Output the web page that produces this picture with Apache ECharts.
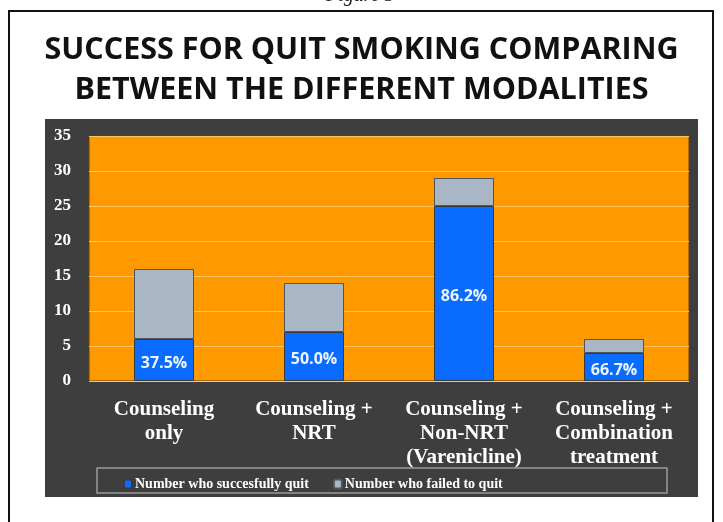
<!DOCTYPE html>
<html>
<head>
<meta charset="utf-8">
<script src="https://cdn.jsdelivr.net/npm/echarts@6/dist/echarts.min.js"></script>
<style>html,body{margin:0;padding:0;background:#fff;}#c{width:723px;height:522px;}</style>
</head>
<body>
<div id="c"></div>
<script>
var categories = ['Counseling\nonly', 'Counseling +\nNRT', 'Counseling +\nNon-NRT\n(Varenicline)', 'Counseling +\nCombination\ntreatment'];
var quitValues = [6, 7, 25, 4];
var failedValues = [10, 7, 4, 2];
var pctLabels = ['37.5%', '50.0%', '86.2%', '66.7%'];
var yTicks = [0, 5, 10, 15, 20, 25, 30, 35];

var chart = echarts.init(document.getElementById('c'));
var serif = '"Liberation Serif", "DejaVu Serif", serif';
chart.setOption({
  backgroundColor: '#ffffff',
  animation: false,
  graphic: [
    { type: 'rect', z: -10, shape: { x: 9, y: 11, width: 704, height: 530 }, style: { fill: '#ffffff', stroke: '#111', lineWidth: 2 } },
    { type: 'text', z: -5, x: 326, y: -14, style: { text: 'Figure 3', fontSize: 20, fontStyle: 'italic', fontFamily: '"Liberation Serif", serif', fill: '#222' } },
    { type: 'rect', z: -9, shape: { x: 45, y: 119, width: 653, height: 378 }, style: { fill: '#3e3e3e' } },
    { type: 'rect', z: -8, shape: { x: 97, y: 468, width: 570, height: 25 }, style: { fill: 'none', stroke: '#9a9a9a', lineWidth: 1.5 } }
  ],
  title: {
    text: 'SUCCESS FOR QUIT SMOKING COMPARING\nBETWEEN THE DIFFERENT MODALITIES',
    left: 'center',
    top: 25,
    textStyle: { fontFamily: '"Open Sans", "Noto Sans", sans-serif', fontWeight: 'bold', fontSize: 30.5, color: '#111', lineHeight: 40 }
  },
  legend: {
    left: 118,
    top: 472,
    itemWidth: 8,
    itemHeight: 9,
    itemGap: 24,
    icon: 'roundRect',
    textStyle: { color: '#ffffff', fontFamily: serif, fontWeight: 'bold', fontSize: 14, padding: [0, 0, 0, -2] },
    data: ['Number who succesfully quit', 'Number who failed to quit']
  },
  grid: {
    left: 89, right: 34, top: 136, bottom: 141,
    show: true, backgroundColor: '#ff9900', borderColor: '#6b4000', borderWidth: 1
  },
  xAxis: {
    type: 'category',
    data: categories,
    axisLine: { show: false },
    axisTick: { show: false },
    axisLabel: { color: '#ffffff', fontFamily: serif, fontWeight: 'bold', fontSize: 21, lineHeight: 24, margin: 17, interval: 0 }
  },
  yAxis: {
    type: 'value',
    min: 0, max: 35, interval: 5,
    axisLine: { show: false },
    axisTick: { show: false },
    splitLine: { lineStyle: { color: '#ffc466', width: 1 } },
    axisLabel: {
      color: '#ffffff', fontFamily: serif, fontWeight: 'bold', fontSize: 17, margin: 18,
      formatter: function (v) { return yTicks.indexOf(v) >= 0 ? String(v) : ''; }
    }
  },
  series: [
    {
      name: 'Number who succesfully quit',
      type: 'bar', stack: 'total', barWidth: '40%',
      data: quitValues,
      itemStyle: { color: '#0a6cff', borderColor: '#3a3a3a', borderWidth: 1 },
      label: {
        show: true, position: 'inside', offset: [0, 3],
        color: '#eef6ff', fontFamily: '"Open Sans", sans-serif', fontWeight: 'bold', fontSize: 16,
        formatter: function (p) { return pctLabels[p.dataIndex]; }
      }
    },
    {
      name: 'Number who failed to quit',
      type: 'bar', stack: 'total', barWidth: '40%',
      data: failedValues,
      itemStyle: { color: '#a8b6c6', borderColor: '#555', borderWidth: 1 }
    }
  ]
});
</script>
</body>
</html>
